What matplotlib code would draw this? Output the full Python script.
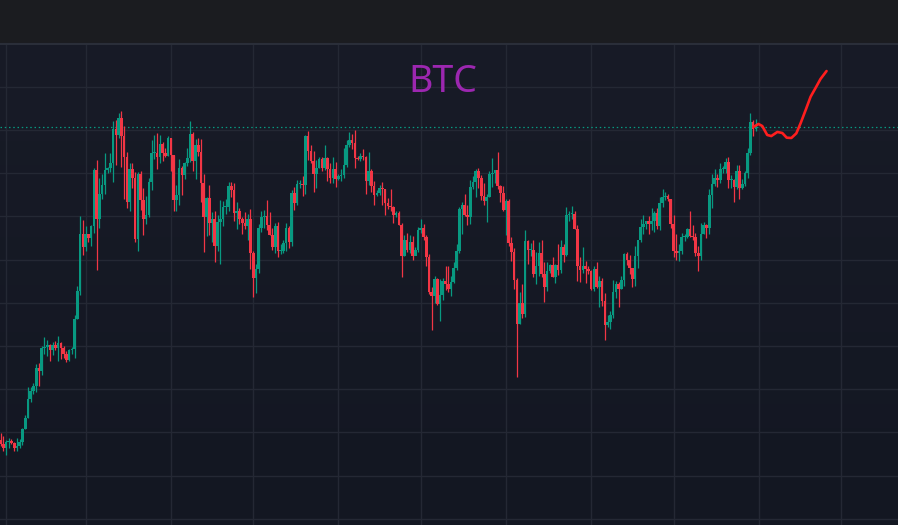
import numpy as np
import pandas as pd
import matplotlib
matplotlib.use("Agg")
import matplotlib.pyplot as plt
from matplotlib.colors import LinearSegmentedColormap

# daily BTC candles (thousand USD), 2024-01-29 .. 2024-10-31
first_date = "2024-01-29"
first_open = 42.0

closes = [
    43.3, 42.9, 42.6,
    # feb
    43.1, 43.2, 43.0, 42.6, 42.7, 43.1, 44.3, 45.3, 47.1, 47.8, 48.3, 50.0, 49.7, 51.8, 51.9,
    52.1, 51.6, 52.1, 51.8, 52.3, 51.8, 51.3, 50.7, 51.6, 51.7, 54.5, 57.1, 62.4, 61.2,
    # mar
    62.4, 62.0, 63.1, 68.3, 63.8, 66.1, 66.9, 68.3, 68.5, 68.9, 72.1, 71.5, 73.1, 71.4, 69.5,
    65.3, 68.4, 67.6, 61.9, 67.9, 65.5, 63.8, 64.1, 67.2, 69.9, 69.9, 69.5, 70.7, 69.9, 69.6, 71.3,
    # apr
    69.7, 65.5, 66.0, 68.5, 67.8, 68.9, 69.4, 71.6, 69.1, 70.6, 70.0, 67.1, 63.9, 65.7, 63.4,
    63.8, 61.3, 63.5, 63.8, 64.9, 64.9, 66.8, 66.4, 64.3, 64.5, 63.8, 63.4, 63.1, 63.8, 60.6,
    # may
    58.3, 59.1, 62.9, 63.9, 64.0, 63.2, 62.3, 61.2, 63.1, 60.8, 60.8, 61.5, 62.9, 61.6, 66.2,
    65.2, 67.0, 67.0, 66.9, 71.4, 70.1, 69.1, 67.9, 68.5, 69.3, 68.5, 69.4, 68.4, 67.6, 68.4, 67.5,
    # jun
    67.7, 67.8, 68.8, 70.6, 71.1, 70.8, 69.4, 69.3, 69.6, 69.5, 67.3, 68.2, 66.8, 66.0, 66.2,
    66.6, 66.5, 65.2, 65.0, 64.9, 64.1, 64.3, 63.2, 60.3, 61.8, 60.9, 61.6, 60.3, 60.9, 62.7,
    # jul
    62.9, 62.1, 60.2, 57.0, 56.6, 58.2, 55.9, 56.7, 58.0, 57.7, 57.3, 57.9, 59.2, 60.8, 64.7,
    65.1, 64.1, 63.9, 66.7, 67.2, 68.2, 67.6, 65.9, 65.4, 65.8, 67.9, 68.0, 68.3, 66.8, 66.2, 64.6,
    # aug
    65.4, 61.5, 60.7, 58.1, 54.0, 56.0, 55.0, 61.7, 60.9, 60.9, 58.7, 59.4, 60.6, 58.7, 57.5,
    58.9, 59.5, 58.4, 59.5, 59.0, 61.2, 60.4, 64.1, 64.2, 64.2, 62.8, 59.4, 59.0, 59.4, 59.1, 58.9,
    # sep
    57.3, 59.1, 57.5, 58.0, 56.2, 53.9, 54.2, 54.9, 57.0, 57.7, 57.3, 58.1, 60.5, 60.0, 59.2,
    58.2, 60.3, 61.8, 63.0, 63.3, 63.6, 63.3, 63.6, 64.3, 63.1, 65.2, 65.8, 65.9, 65.6, 63.3,
    # oct
    60.8, 60.6, 60.8, 62.1, 62.1, 62.8, 62.2, 62.1, 60.6, 60.3, 62.4, 63.2, 62.9, 66.0, 67.0,
    67.6, 67.4, 68.4, 68.4, 69.0, 67.4, 67.4, 66.7, 68.2, 66.6, 67.0, 68.0, 69.9, 72.7, 72.1, 72.3,
]

highs = [
    43.3, 43.9, 43.7,
    43.3, 43.5, 43.4, 43.1, 43.5, 43.4, 44.4, 45.6, 48.2, 48.2, 48.6, 50.3, 50.4, 52.0, 52.8,
    52.6, 52.2, 52.4, 52.5, 52.9, 52.4, 52.0, 51.5, 51.7, 51.9, 54.9, 57.6, 64.0, 63.7,
    63.1, 62.4, 63.2, 68.5, 69.2, 67.6, 67.9, 69.9, 68.6, 69.9, 72.8, 72.9, 73.6, 73.8, 72.4,
    70.0, 68.9, 68.9, 68.1, 68.1, 68.2, 66.6, 65.9, 67.6, 71.1, 71.5, 71.7, 71.5, 70.9, 70.3, 71.4,
    71.3, 69.7, 66.9, 69.3, 68.7, 69.0, 70.3, 72.8, 71.8, 71.2, 71.3, 71.2, 67.9, 65.8, 66.9,
    64.4, 64.5, 64.1, 65.5, 65.4, 65.6, 67.2, 67.2, 67.1, 65.3, 64.8, 63.9, 64.4, 64.2, 64.7,
    60.8, 59.6, 63.3, 64.5, 64.6, 65.5, 64.4, 62.9, 63.4, 63.5, 61.4, 61.8, 63.4, 63.1, 66.4,
    66.7, 67.4, 67.4, 67.7, 71.5, 71.9, 70.6, 70.1, 69.2, 69.5, 69.5, 70.6, 69.5, 68.9, 69.5, 69.0,
    67.9, 68.4, 70.3, 71.1, 71.8, 71.6, 72.0, 69.6, 69.9, 70.2, 69.6, 70.0, 68.4, 67.3, 66.4,
    66.9, 67.2, 66.5, 65.7, 66.5, 65.0, 64.5, 64.5, 63.4, 62.3, 62.5, 62.3, 62.2, 61.2, 63.0,
    63.8, 63.3, 62.3, 60.5, 57.5, 58.5, 58.3, 58.2, 58.3, 59.4, 59.4, 58.5, 59.8, 61.4, 64.9,
    65.3, 66.1, 65.1, 67.4, 67.7, 68.4, 68.5, 67.8, 67.1, 66.1, 68.2, 69.4, 68.3, 70.0, 66.9, 66.8,
    65.6, 65.6, 62.1, 61.1, 58.3, 57.0, 57.7, 62.7, 61.8, 61.5, 61.8, 60.7, 61.6, 61.8, 59.8,
    59.8, 59.6, 60.2, 59.6, 61.4, 61.8, 61.4, 64.9, 64.5, 65.0, 64.5, 63.2, 60.2, 61.2, 59.9, 59.4,
    59.0, 59.4, 59.8, 58.5, 58.3, 56.9, 54.9, 55.2, 58.1, 58.0, 57.9, 58.5, 60.6, 60.7, 60.4,
    59.2, 61.3, 61.7, 63.8, 64.1, 63.6, 64.0, 64.8, 64.5, 64.8, 65.8, 66.5, 66.3, 66.1, 65.6,
    64.1, 62.4, 61.4, 62.5, 62.4, 62.9, 64.5, 63.2, 62.5, 61.3, 63.4, 63.5, 63.3, 66.5, 67.9,
    68.4, 67.9, 68.9, 68.7, 69.4, 69.5, 67.8, 67.5, 68.8, 68.8, 67.5, 68.2, 70.3, 73.6, 72.9, 73.0,
]

lows = [
    41.8, 42.7, 42.3,
    41.9, 42.6, 42.9, 42.3, 42.3, 42.6, 42.8, 44.3, 45.3, 46.8, 47.6, 47.7, 48.3, 49.3, 51.3,
    51.1, 50.6, 51.2, 51.6, 50.6, 50.8, 50.9, 50.5, 50.6, 51.3, 50.9, 54.5, 56.7, 60.4,
    60.8, 61.6, 61.3, 62.5, 59.0, 62.9, 65.6, 66.1, 68.0, 68.1, 67.2, 68.8, 71.3, 68.6, 65.6,
    64.8, 64.5, 66.6, 61.6, 60.8, 64.6, 62.3, 63.3, 63.9, 66.4, 69.3, 68.4, 68.9, 69.1, 69.5, 69.6,
    68.2, 64.5, 64.5, 65.1, 66.0, 67.5, 68.7, 69.0, 68.2, 67.5, 69.6, 65.3, 60.7, 62.2, 62.3,
    61.6, 59.8, 60.8, 59.6, 63.1, 64.2, 64.5, 65.8, 63.6, 62.8, 63.3, 62.4, 62.8, 61.8, 59.1,
    56.5, 56.9, 58.8, 62.6, 62.9, 62.7, 62.3, 60.9, 60.6, 60.2, 60.5, 60.6, 60.8, 61.1, 61.3,
    64.6, 65.1, 66.6, 65.9, 66.1, 69.2, 68.9, 66.3, 66.6, 68.5, 68.2, 68.3, 67.3, 67.1, 67.1, 66.7,
    67.4, 67.3, 67.6, 68.6, 70.4, 70.2, 68.5, 69.2, 69.1, 69.2, 66.1, 66.9, 66.3, 65.1, 65.9,
    66.0, 65.1, 64.1, 64.7, 64.5, 63.4, 63.9, 63.2, 58.4, 60.3, 60.7, 60.6, 60.0, 60.4, 60.7,
    62.5, 61.8, 59.4, 56.8, 53.5, 56.0, 55.8, 54.3, 56.3, 57.2, 57.0, 56.6, 57.8, 59.0, 60.6,
    62.4, 64.0, 63.2, 63.3, 66.5, 65.8, 66.6, 65.5, 65.1, 63.5, 65.8, 66.7, 67.1, 66.5, 65.3, 64.5,
    62.3, 61.3, 59.9, 57.3, 49.1, 54.0, 54.6, 54.7, 59.6, 60.3, 58.4, 57.7, 58.5, 58.4, 56.1,
    57.1, 58.8, 58.4, 57.8, 58.6, 58.8, 59.8, 60.3, 63.6, 63.8, 62.8, 58.0, 57.9, 58.8, 57.8, 58.7,
    57.2, 57.1, 57.4, 55.6, 55.7, 52.6, 53.8, 53.6, 54.6, 56.4, 55.6, 57.3, 57.6, 59.5, 58.7,
    57.5, 57.6, 59.2, 61.6, 62.4, 62.8, 62.4, 62.7, 62.6, 62.8, 62.7, 64.9, 65.5, 65.4, 62.9,
    60.2, 60.0, 59.9, 60.5, 61.7, 62.0, 62.1, 61.8, 60.3, 58.9, 60.0, 62.4, 62.0, 62.4, 64.8,
    66.8, 66.7, 67.1, 68.0, 68.0, 66.6, 66.6, 65.3, 66.5, 65.6, 66.5, 66.8, 67.6, 69.7, 71.4, 71.9,
]

# forecast path drawn after the last candle (days after 2024-02-01, thousand USD)
forecast_days = [272.1, 273.9, 275.3, 277.1, 278.6, 280.8, 282.6, 284.2,
                 285.9, 287.7, 289.3, 291.1, 292.9, 294.7, 296.5, 298.7]
forecast_prices = [72.28, 72.56, 72.37, 71.54, 71.44, 71.82, 71.72, 71.29,
                   71.26, 71.69, 72.65, 73.85, 75.08, 75.89, 76.72, 77.46]

price_grid = [36, 40, 44, 48, 52, 56, 60, 64, 68, 72, 76]
month_grid = pd.date_range("2024-02-01", "2024-12-01", freq="MS")

title = "BTC"

UP = "#089981"
DOWN = "#f23645"
origin = pd.Timestamp("2024-02-01")

dates = pd.date_range(first_date, periods=len(closes), freq="D")
x = np.array((dates - origin).days, dtype=float)
c = np.array(closes)
o = np.array([first_open] + closes[:-1])
h = np.array(highs)
l = np.array(lows)
up = c >= o
cols = np.where(up, UP, DOWN)

fig = plt.figure(figsize=(8.98, 5.25), dpi=100, facecolor="#1b1c20")
ax = fig.add_axes([0, 0, 1, 481 / 525])
xlim = (-6 / 2.747, 892 / 2.747)
ylim = (35.426, 79.963)

grad = LinearSegmentedColormap.from_list("bg", ["#131722", "#181b27"])
ax.imshow(np.linspace(0, 1, 256).reshape(-1, 1), cmap=grad, origin="lower",
          extent=[xlim[0], xlim[1], ylim[0], ylim[1]], aspect="auto", zorder=0)

for p in price_grid:
    ax.axhline(p, color="#242834", lw=1.0, zorder=1)
for d in month_grid:
    ax.axvline((d - origin).days, color="#242834", lw=1.0, zorder=1)

ax.vlines(x, l, h, colors=cols, lw=0.9, zorder=3)
body = c - o
body = np.where(np.abs(body) < 0.08, 0.08, body)
ax.bar(x, body, bottom=o, width=0.95, color=cols, linewidth=0, zorder=4)

ax.axhline(c[-1], color=UP, lw=0.9, ls=(0, (1.2, 2.2)), zorder=2)

ax.plot(forecast_days, forecast_prices, color="#ff1e1e", lw=1.9,
        solid_capstyle="round", zorder=5)

ax.set_xlim(*xlim)
ax.set_ylim(*ylim)
ax.set_xticks([])
ax.set_yticks([])
for side in ["left", "right", "bottom"]:
    ax.spines[side].set_visible(False)
ax.spines["top"].set_color("#2a2e39")
ax.spines["top"].set_linewidth(1.5)

fig.text(443 / 898, 1 - 82 / 525, title, color="#9c27b0", fontsize=27,
         family="Noto Sans", ha="center", va="center")

fig.savefig("out.png", dpi=100, facecolor=fig.get_facecolor())
